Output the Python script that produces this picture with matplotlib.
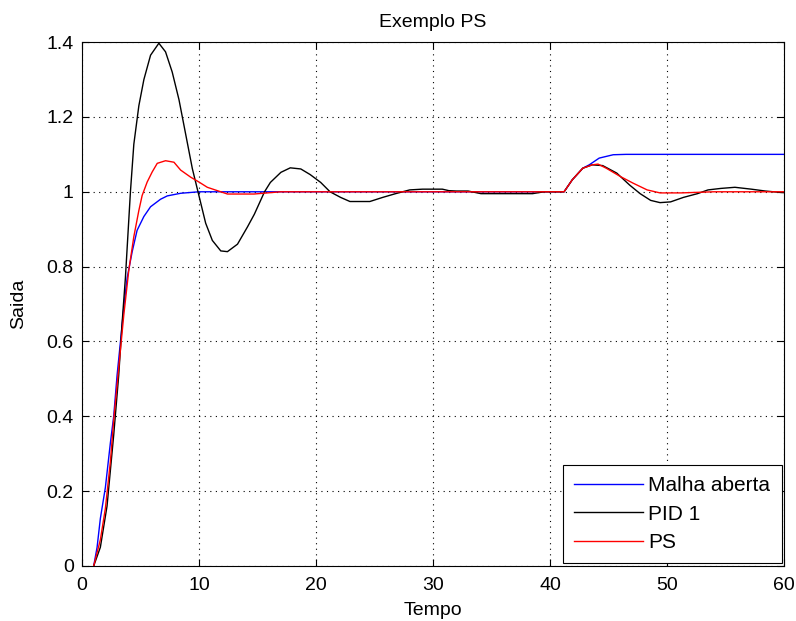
import matplotlib
matplotlib.use("Agg")
import matplotlib.pyplot as plt
from matplotlib.ticker import FormatStrFormatter

plt.rcParams["font.family"] = ["Liberation Sans", "DejaVu Sans"]

# Malha aberta (open loop)
t_open = [1.0, 1.29, 1.57, 2.0, 2.43, 2.71, 3.0, 3.29, 3.57, 3.86, 4.29, 4.71,
          5.29, 5.86, 6.71, 7.29, 8.43, 10.0, 41.2, 41.9, 42.8, 43.35, 44.2,
          45.4, 46.5, 60.0]
y_open = [0.0, 0.05, 0.127, 0.21, 0.33, 0.40, 0.51, 0.60, 0.69, 0.77, 0.84,
          0.897, 0.934, 0.96, 0.98, 0.989, 0.996, 1.0, 1.0, 1.032, 1.063,
          1.072, 1.09, 1.099, 1.1, 1.1]

# PID 1
t_pid = [1.0, 1.57, 2.14, 2.71, 3.14, 3.43, 3.71, 4.14, 4.43, 4.86, 5.29, 5.86,
         6.57, 7.14, 7.71, 8.29, 8.86, 9.43, 10.0, 10.57, 11.14, 11.86, 12.43,
         13.29, 14.14, 14.73, 15.6, 16.1, 17.0, 17.8, 18.7, 19.5, 20.4, 21.2,
         22.1, 22.9, 24.6, 25.7, 26.8, 28.0, 29.1, 30.8, 31.35, 32.0, 33.0,
         34.1, 38.5, 39.5, 41.2, 41.9, 42.8, 43.6, 44.5, 45.7, 46.8, 47.7,
         48.6, 49.4, 50.3, 51.4, 52.6, 53.5, 54.6, 55.8, 57.2, 58.4, 59.8, 60.0]
y_pid = [0.0, 0.05, 0.16, 0.35, 0.51, 0.65, 0.77, 1.0, 1.127, 1.23, 1.30, 1.365,
         1.397, 1.374, 1.32, 1.246, 1.154, 1.062, 0.989, 0.916, 0.87, 0.842,
         0.84, 0.86, 0.906, 0.94, 1.0, 1.025, 1.052, 1.064, 1.061, 1.046,
         1.025, 1.0, 0.985, 0.974, 0.974, 0.985, 0.995, 1.005, 1.007, 1.007,
         1.003, 1.002, 1.002, 0.995, 0.995, 1.0, 1.0, 1.032, 1.063, 1.072,
         1.07, 1.05, 1.018, 0.995, 0.977, 0.971, 0.973, 0.985, 0.995, 1.005,
         1.009, 1.012, 1.007, 1.002, 0.998, 0.998]

# PS
t_ps = [1.0, 1.57, 2.0, 2.43, 2.71, 3.14, 3.57, 4.0, 4.43, 4.86, 5.14, 5.57,
        6.0, 6.43, 7.14, 7.86, 8.43, 9.29, 10.0, 10.71, 11.57, 12.43, 14.7,
        17.0, 41.2, 41.9, 42.8, 43.6, 44.1, 44.8, 46.0, 47.1, 48.3, 49.4,
        51.2, 54.0, 60.0]
y_ps = [0.0, 0.07, 0.154, 0.28, 0.39, 0.53, 0.67, 0.79, 0.88, 0.95, 0.99,
        1.026, 1.053, 1.076, 1.083, 1.079, 1.058, 1.039, 1.026, 1.012, 1.003,
        0.994, 0.994, 1.0, 1.0, 1.032, 1.063, 1.072, 1.074, 1.063, 1.041,
        1.023, 1.005, 0.997, 0.997, 1.0, 1.0]

fig = plt.figure(figsize=(7.96, 6.21), dpi=100)
ax = fig.add_axes([0.103, 0.0886, 0.882, 0.8436])

ax.plot(t_open, y_open, color="#0000ff", lw=1, label="Malha aberta")
ax.plot(t_pid, y_pid, color="black", lw=1, label="PID 1")
ax.plot(t_ps, y_ps, color="#ff0000", lw=1, label="PS")

ax.set_xlim(0, 60)
ax.set_ylim(0, 1.4)
ax.set_xticks(range(0, 61, 10))
ax.set_yticks([0, 0.2, 0.4, 0.6, 0.8, 1.0, 1.2, 1.4])
ax.yaxis.set_major_formatter(FormatStrFormatter("%g"))
ax.tick_params(direction="in", top=True, right=True, length=5, width=0.8,
               labelsize=14)
ax.tick_params(axis="x", pad=8)
ax.tick_params(axis="y", pad=6)
ax.grid(True, color="black", linestyle=(0, (1, 4)), linewidth=0.8)
for s in ax.spines.values():
    s.set_linewidth(0.8)

ax.set_title("Exemplo PS", fontsize=14, pad=11)
ax.set_xlabel("Tempo", fontsize=14, labelpad=6)
ax.set_ylabel("Saida", fontsize=14, labelpad=14)

leg = ax.legend(loc="lower right", fontsize=15, fancybox=False, framealpha=1,
                edgecolor="black", handlelength=3.3, handletextpad=0.25,
                labelspacing=0.45, borderaxespad=0.12, borderpad=0.55)
leg.get_frame().set_linewidth(0.8)

fig.savefig("out.png", dpi=100, facecolor="white")
